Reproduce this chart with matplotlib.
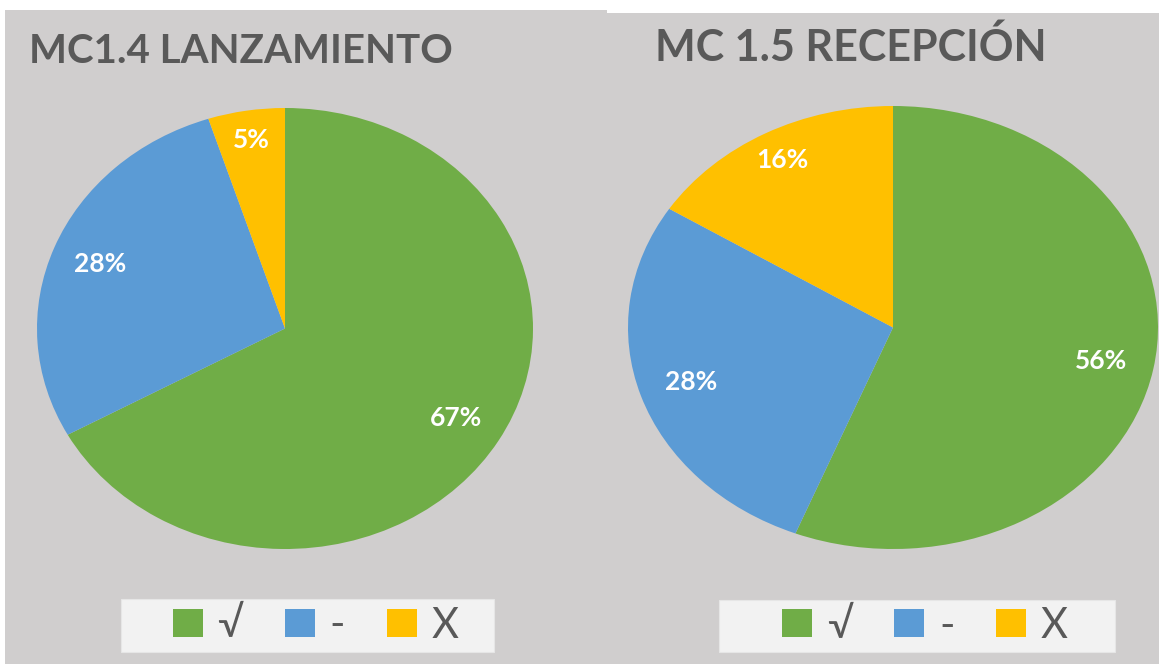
# %%
# Two Excel-style pie charts: MC1.4 LANZAMIENTO and MC 1.5 RECEPCIÓN

import matplotlib
matplotlib.use('Agg')
import matplotlib.pyplot as plt
from matplotlib.patches import Rectangle, Patch

plt.rcParams['font.family'] = ['Lato', 'DejaVu Sans']

W, H = 1159, 664

categories = ['√', '-', 'X']
colors = ['#70ad47', '#5b9bd5', '#ffc000']
titles = ['MC1.4 LANZAMIENTO', 'MC 1.5 RECEPCIÓN']
lanzamiento = [67, 28, 5]
recepcion = [56, 28, 16]

BG = '#d0cece'
TXT = '#595959'


def fx(px):
    return px / W


def fy(py):
    return 1 - py / H


def box(x0, y0, x1, y1):
    "pixel box (top-left origin) -> figure rect"
    return [fx(x0), fy(y1), fx(x1 - x0), (y1 - y0) / H]


fig = plt.figure(figsize=(W / 100, H / 100), dpi=100, facecolor='white')

# panel backgrounds (below the axes)
fig.patches.append(Rectangle((fx(5), fy(664)), fx(602), 654 / H, transform=fig.transFigure,
                             facecolor=BG, edgecolor='none', zorder=-2))
fig.patches.append(Rectangle((fx(607), fy(664)), fx(552), 651 / H, transform=fig.transFigure,
                             facecolor=BG, edgecolor='none', zorder=-2))

panels = [
    dict(vals=lanzamiento, title=titles[0], pie=(37, 108, 533, 549), tx=241, ty=63,
         tsize=29, leg=(121, 599, 494, 652)),
    dict(vals=recepcion, title=titles[1], pie=(628, 106, 1158, 549), tx=851, ty=61,
         tsize=31, leg=(719, 600, 1115, 652)),
]

for p in panels:
    ax = fig.add_axes(box(*p['pie']))
    wedges, _, autotexts = ax.pie(p['vals'], colors=colors, startangle=90, counterclock=False,
                                  autopct='%d%%', pctdistance=0.8,
                                  wedgeprops=dict(linewidth=0),
                                  textprops=dict(color='white', fontsize=19, fontweight='bold'))
    # small label at the top sits a bit further out, as Excel puts it
    x, y = autotexts[2].get_position()
    autotexts[2].set_position((x * 1.08, y * 1.08))
    ax.set_aspect('auto')
    ax.set_xlim(-1, 1)
    ax.set_ylim(-1, 1)
    ax.axis('off')

    fig.text(fx(p['tx']), fy(p['ty']), p['title'], ha='center', va='baseline',
             fontsize=p['tsize'], fontweight='bold', color=TXT)

    # legend box
    x0, y0, x1, y1 = p['leg']
    fig.patches.append(Rectangle((fx(x0), fy(y1)), fx(x1 - x0), (y1 - y0) / H,
                                 transform=fig.transFigure, facecolor='#f2f2f2',
                                 edgecolor='#e6e6e6', linewidth=0.8, zorder=-1))
    handles = [Patch(facecolor=c, edgecolor='none') for c in colors]
    fig.legend(handles, categories, loc='center',
               bbox_to_anchor=(fx((x0 + x1) / 2 + 8), fy((y0 + y1) / 2)),
               ncol=3, frameon=False, fontsize=30, labelcolor=TXT,
               handlelength=0.72, handleheight=0.65, handletextpad=0.35,
               columnspacing=1.0, borderpad=0)

plt.savefig('out.png', dpi=100, facecolor='white')
